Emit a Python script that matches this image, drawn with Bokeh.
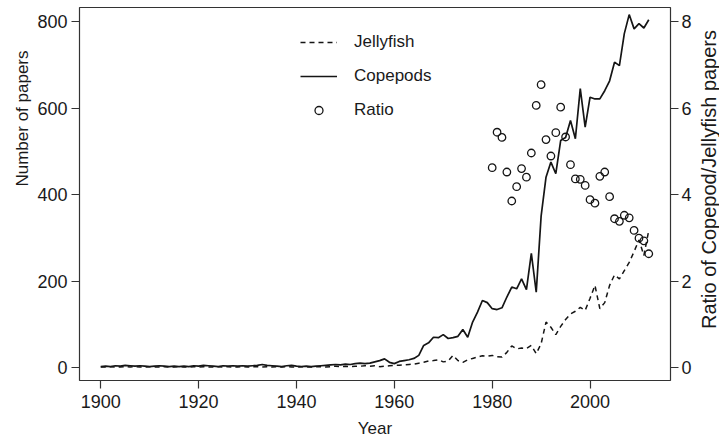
import math
from bokeh.plotting import figure
from bokeh.layouts import row
from bokeh.models import Range1d, LinearAxis, Legend, LegendItem, FixedTicker, Label
from bokeh.embed import file_html
from bokeh.resources import INLINE

# ---------------- data ----------------
years = list(range(1900, 2013))

copepods = [
    2, 3, 2, 4, 3, 5, 4, 3, 4, 3,            # 1900-1909
    2, 3, 4, 3, 2, 3, 2, 3, 2, 4,            # 1910-1919
    3, 5, 4, 3, 2, 4, 3, 4, 3, 4,            # 1920-1929
    3, 4, 5, 7, 5, 4, 3, 2, 4, 5,            # 1930-1939
    3, 2, 3, 2, 3, 4, 5, 6, 7, 6,            # 1940-1949
    8, 7, 9, 10, 9, 10, 13, 16, 20, 12,      # 1950-1959
    9, 14, 16, 18, 21, 28, 51, 57, 70, 69,   # 1960-1969
    76, 67, 69, 72, 88, 70, 105, 128, 155, 150,      # 1970-1979
    136, 134, 138, 163, 186, 182, 205, 180, 264, 174,  # 1980-1989
    350, 440, 475, 448, 525, 532, 571, 529, 645, 556,  # 1990-1999
    625, 621, 621, 640, 663, 706, 698, 772, 816, 783,  # 2000-2009
    795, 785, 804,                                     # 2010-2012
]

jellyfish = [
    1, 1, 2, 1, 1, 2, 1, 2, 1, 1,            # 1900-1909
    2, 1, 1, 2, 1, 1, 2, 1, 1, 2,            # 1910-1919
    1, 2, 1, 1, 2, 1, 2, 1, 1, 2,            # 1920-1929
    1, 2, 2, 1, 2, 1, 2, 1, 2, 1,            # 1930-1939
    1, 2, 1, 1, 2, 2, 1, 2, 3, 2,            # 1940-1949
    3, 2, 3, 3, 4, 3, 4, 2, 3, 4,            # 1950-1959
    5, 5, 6, 7, 8, 10, 12, 15, 16, 18,       # 1960-1969
    13, 15, 28, 16, 12, 18, 21, 24, 27, 26,  # 1970-1979
    28, 25, 24, 35, 50, 43, 45, 44, 51, 32,  # 1980-1989
    55, 105, 93, 76, 95, 111, 124, 130, 139, 132,   # 1990-1999
    160, 190, 136, 150, 190, 214, 205, 224, 243, 268,  # 2000-2009
    295, 259, 317,                                      # 2010-2012
]

ratio_years = list(range(1980, 2013))
ratio = [4.62, 5.44, 5.32, 4.52, 3.85, 4.18, 4.60, 4.40, 4.96, 6.06,
         6.54, 5.27, 4.89, 5.43, 6.02, 5.33, 4.69, 4.36, 4.35, 4.21,
         3.88, 3.80, 4.42, 4.52, 3.95, 3.44, 3.38, 3.52, 3.46, 3.17,
         2.99, 2.93, 2.63]

x_ticks = [1900, 1920, 1940, 1960, 1980, 2000]
y_ticks = [0, 200, 400, 600, 800]
ratio_ticks = [0, 2, 4, 6, 8]

x_title = "Year"
y_title = "Number of papers"
y2_title = "Ratio of Copepod/Jellyfish papers"

# ---------------- styling ----------------
FONT = "Liberation Sans"
TXT = "#1a1a1a"
INK = "#151515"
H = 443

# main plot
p = figure(width=663, height=H, output_backend="svg", toolbar_location=None,
           x_range=Range1d(1895.66, 2016.44), y_range=Range1d(-30.06, 832.4),
           min_border_left=43, min_border_right=27, min_border_top=7,
           min_border_bottom=63)
p.extra_y_ranges = {"ratio": Range1d(-0.3006, 8.324)}
p.grid.visible = False
p.outline_line_color = "#333333"
p.outline_line_width = 1.2
p.background_fill_color = "white"
p.border_fill_color = "white"

rj = p.line(years, jellyfish, line_color=INK, line_width=1.5, line_dash="5 4")
rc = p.line(years, copepods, line_color=INK, line_width=1.7)
rr = p.scatter(ratio_years, ratio, y_range_name="ratio", marker="circle", size=7.5,
               fill_color=None, line_color=INK, line_width=1.3)

right = LinearAxis(y_range_name="ratio")
p.add_layout(right, "right")


def style(ax, ticks):
    ax.ticker = FixedTicker(ticks=ticks)
    ax.major_tick_out = 8
    ax.major_tick_in = 0
    ax.minor_tick_out = 0
    ax.minor_tick_in = 0
    ax.axis_line_color = None
    ax.major_tick_line_color = "#333333"
    ax.major_tick_line_width = 1.2
    ax.major_label_text_font = FONT
    ax.major_label_text_font_size = "18px"
    ax.major_label_text_color = TXT
    ax.axis_label_text_font = FONT
    ax.axis_label_text_font_size = "17px"
    ax.axis_label_text_font_style = "normal"
    ax.axis_label_text_color = TXT


style(p.xaxis[0], x_ticks)
style(p.yaxis[0], y_ticks)
style(right, ratio_ticks)

p.xaxis[0].axis_label = x_title
p.xaxis[0].major_label_standoff = 6
p.xaxis[0].axis_label_standoff = 8
p.yaxis[0].major_label_standoff = 4
p.yaxis[0].major_label_orientation = "horizontal"
right.major_label_standoff = 3
right.major_label_orientation = "horizontal"

legend = Legend(items=[LegendItem(label="Jellyfish", renderers=[rj]),
                       LegendItem(label="Copepods", renderers=[rc]),
                       LegendItem(label="Ratio", renderers=[rr])],
                location=(221, 260), border_line_color=None,
                background_fill_alpha=0, padding=0, margin=0, spacing=14,
                glyph_width=37, glyph_height=20, label_height=20,
                label_standoff=17, label_text_font=FONT,
                label_text_font_size="17px", label_text_color=TXT)
p.add_layout(legend)


# narrow side strips carrying the vertical axis titles (bottom-to-top)
def title_strip(width, text, cx, cy, size):
    s = figure(width=width, height=H, output_backend="svg", toolbar_location=None,
               x_axis_location=None, y_axis_location=None, min_border=0,
               x_range=Range1d(0, 1), y_range=Range1d(0, 1))
    s.grid.visible = False
    s.outline_line_color = None
    s.background_fill_color = "white"
    s.border_fill_color = "white"
    s.add_layout(Label(x=cx, y=cy, x_units="screen", y_units="screen", text=text,
                       angle=math.pi / 2, text_align="center",
                       text_baseline="middle", text_font=FONT,
                       text_font_size=size, text_color=TXT))
    return s


left_strip = title_strip(34, y_title, 22, 262, "17px")
right_strip = title_strip(22, y2_title, 11, 201, "20px")

layout = row(left_strip, p, right_strip)
open("out.html", "w").write(file_html(layout, INLINE))
